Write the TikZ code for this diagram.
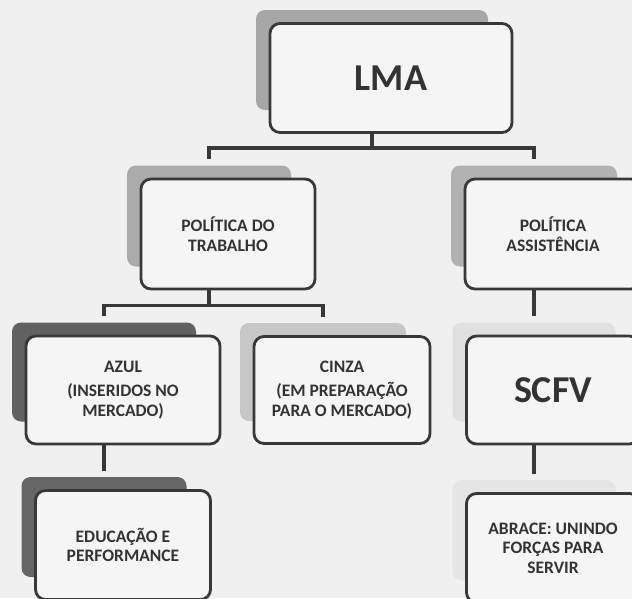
\documentclass[tikz,border=0pt]{standalone}
\usepackage{fontspec}
\setmainfont{Carlito}
\newcommand{\kleinschrift}{\fontsize{17.5}{19.5}\selectfont\bfseries}
\newcommand{\grossschrift}{\fontsize{38}{40}\selectfont\bfseries}
\tikzset{
    schatten/.style={rectangle, rounded corners=9pt, inner sep=0pt},
    karte/.style={rectangle, rounded corners=10pt, draw=black!78, line width=2.8pt, fill=black!4, text=black!80, align=center, inner sep=0pt},
    linie/.style={draw=black!78, line width=3.4pt, shorten >=6pt}
}
\begin{document}
\begin{tikzpicture}[x=1pt, y=-1pt]
    \useasboundingbox (0,0) rectangle (632,598);
    \fill[black!6] (0,0) rectangle (632,598);
    \clip (0,0) rectangle (632,598);

    % Kaesten mit Schatten in Foreach-Schleife zeichnen lassen
    \foreach \name/\xPos/\yPos/\breite/\hoehe/\grau/\schrift/\beschriftung in {lma/372/60/232/100/35/\grossschrift/LMA,
                                                     pdt/209/216/164/101/33/\kleinschrift/POLÍTICA DO\\TRABALHO,
                                                     pa/534/216/166/101/30/\kleinschrift/POLÍTICA\\ASSISTÊNCIA,
                                                     azul/104/372/184/99/62/\kleinschrift/AZUL\\[5pt](INSERIDOS NO\\MERCADO),
                                                     cinza/323/372/166/98/22/\kleinschrift/CINZA\\[5pt](EM PREPARAÇÃO\\PARA O MERCADO),
                                                     scfv/534/372/163/99/12/\grossschrift/SCFV,
                                                     edp/104/527/165/100/60/\kleinschrift/EDUCAÇÃO E\\PERFORMANCE,
                                                     abrace/534/530/163/100/10/\kleinschrift/ABRACE: UNINDO\\FORÇAS PARA\\SERVIR}
        {
            \node[schatten, fill=black!\grau, minimum width=\breite, minimum height=\hoehe] (\name) at (\xPos,\yPos) {};  % Schatten
            \node[karte, font=\schrift, minimum width=\breite+10, minimum height=\hoehe+9] (\name-f) at (\xPos+19,\yPos+18) {\beschriftung};  % Kasten vorne
        }

    % Verbindungen
    \draw[linie] (lma.south |- lma-f.south) -- ++(0,14) -| (pdt.north);
    \draw[linie] (lma.south |- lma-f.south) -- ++(0,14) -| (pa.north);
    \draw[linie] (pdt.south |- pdt-f.south) -- ++(0,15) -| (azul.north);
    \draw[linie] (pdt.south |- pdt-f.south) -- ++(0,15) -| (cinza.north);
    \draw[linie] (pa.south |- pa-f.south) -- (scfv.north);
    \draw[linie] (azul.south |- azul-f.south) -- (edp.north);
    \draw[linie] (scfv.south |- scfv-f.south) -- (abrace.north);
\end{tikzpicture}
\end{document}
